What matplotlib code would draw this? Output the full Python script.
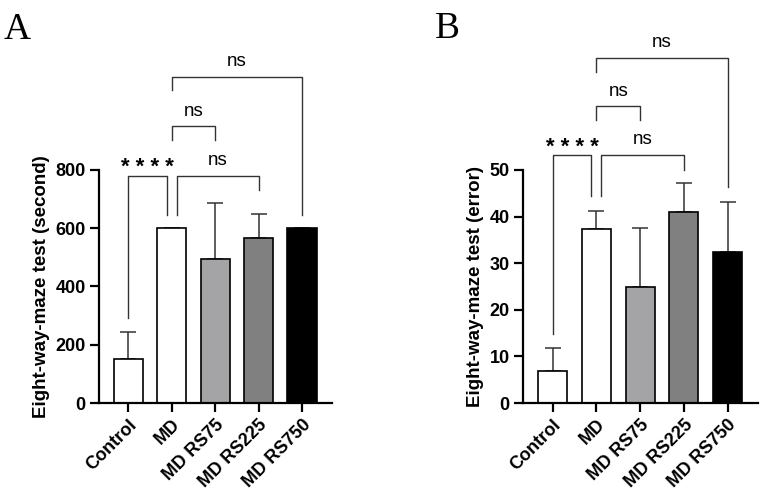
import matplotlib
matplotlib.use("Agg")
import matplotlib.pyplot as plt
import numpy as np

plt.rcParams['font.family'] = ['Liberation Sans', 'DejaVu Sans']

# groups and colours
groups = ["Control", "MD", "MD RS75", "MD RS225", "MD RS750"]
bar_colors = ["white", "white", "#a4a4a7", "#808080", "black"]

# panel A: time (second), mean and upper error
time_mean = [151, 600, 493, 566, 600]
time_err = [91, 0, 195, 83, 0]

# panel B: errors, mean and upper error
error_mean = [6.9, 37.3, 24.9, 40.9, 32.4]
error_err = [4.9, 3.9, 12.7, 6.2, 10.8]

# comparisons: (left group, right group, label)
comparisons = [(0, 1, "* * * *"), (1, 3, "ns"), (1, 2, "ns"), (1, 4, "ns")]

# bracket geometry (left leg bottom, right leg bottom, top) in data units
brackets_a = [(290, 645, 780), (645, 731, 780), (903, 903, 949), (1073, 645, 1119)]
brackets_b = [(14.9, 44.3, 53.2), (44.3, 50.0, 53.2), (60.6, 60.6, 63.6), (71.1, 46.4, 74.1)]
leg_shift = [(0, -0.12), (0.11, 0), (0, 0), (0, 0)]


def draw_panel(ax, mean, err, ymax, yticks, ylabel, brackets):
    x = np.arange(len(groups))
    ax.bar(x, mean, width=0.67, color=bar_colors, edgecolor="black", linewidth=1.2, zorder=2)
    ax.errorbar(x, mean, yerr=[np.zeros(len(err)), err], fmt="none", ecolor="#333333",
                elinewidth=1.1, capsize=5.5, capthick=1.1, zorder=1)
    ax.set_xlim(-0.68, 4.69)
    ax.set_ylim(0, ymax)
    ax.set_yticks(yticks)
    ax.set_xticks(x)
    ax.set_xticklabels(groups, rotation=45, ha="right", rotation_mode="anchor",
                       fontsize=13, fontweight="bold")
    for lab in ax.get_yticklabels():
        lab.set_fontweight("bold")
        lab.set_fontsize(13)
    ax.set_ylabel(ylabel, fontsize=13.5, fontweight="bold", labelpad=4)
    ax.spines["top"].set_visible(False)
    ax.spines["right"].set_visible(False)
    ax.spines["left"].set_linewidth(1.6)
    ax.spines["bottom"].set_linewidth(1.6)
    ax.tick_params(axis="both", direction="out", length=6.5, width=1.6, pad=3)

    for (i, j, label), (yl, yr, top), (dl, dr) in zip(comparisons, brackets, leg_shift):
        x1, x2 = i + dl, j + dr
        ax.plot([x1, x1, x2, x2], [yl, top, top, yr], color="#333333", lw=1.0, clip_on=False)
        if label.startswith("*"):
            ax.annotate(label, xy=((x1 + x2) / 2, top), xytext=(0, -2), textcoords="offset points",
                        ha="center", va="bottom", fontsize=16, fontweight="bold",
                        annotation_clip=False)
        else:
            ax.annotate(label, xy=((x1 + x2) / 2, top), xytext=(0, 11), textcoords="offset points",
                        ha="center", va="center", fontsize=13.5, annotation_clip=False)


fig = plt.figure(figsize=(7.72, 4.96), dpi=100)
ax_a = fig.add_axes([0.128, 0.1875, 0.302, 0.47])
ax_b = fig.add_axes([0.6775, 0.1875, 0.304, 0.47])

draw_panel(ax_a, time_mean, time_err, 800, [0, 200, 400, 600, 800],
           "Eight-way-maze test (second)", brackets_a)
draw_panel(ax_b, error_mean, error_err, 50, [0, 10, 20, 30, 40, 50],
           "Eight-way-maze test (error)", brackets_b)

fig.text(0.005, 0.94, "A", fontsize=27, family="Liberation Serif", va="center", ha="left")
fig.text(0.563, 0.943, "B", fontsize=27, family="Liberation Serif", va="center", ha="left")

fig.savefig("out.png", dpi=100)
